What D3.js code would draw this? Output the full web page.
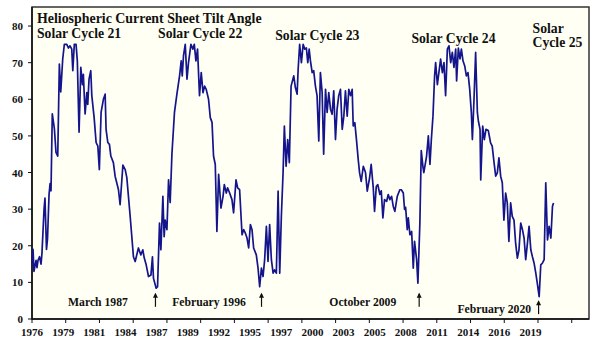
<!DOCTYPE html>
<html>
<head>
<meta charset="utf-8">
<script src="https://cdn.jsdelivr.net/npm/d3@7"></script>
<style>
  body { margin: 0; background: #fff; }
  svg text { font-family: "Liberation Serif", "DejaVu Serif", serif; font-weight: bold; fill: #111; }
</style>
</head>
<body>
<svg id="chart"></svg>
<script>
// tilt angle (degrees), [decimal year, value]
var tiltSeries = [
  [1976.40,15],[1976.49,19],[1976.57,13],[1976.75,16],[1976.83,14],[1976.92,16],[1977.05,17],[1977.18,15],
  [1977.26,18],[1977.44,30],[1977.52,33],[1977.65,19],[1977.74,22],[1977.87,34],[1977.96,37],[1978.04,35],
  [1978.15,56],[1978.33,52],[1978.47,45.5],[1978.62,44.5],[1978.76,69.6],[1978.88,62],[1979.05,71],[1979.19,75],
  [1979.40,75],[1979.54,74],[1979.68,74.6],[1979.83,73.7],[1979.92,67.8],[1980.05,75],[1980.20,75],[1980.31,70.5],
  [1980.46,51],[1980.61,68.7],[1980.75,64],[1980.83,66.8],[1980.98,56],[1981.13,61.8],[1981.21,58.6],[1981.32,65.5],
  [1981.47,67.8],[1981.56,61],[1981.76,55],[1981.93,48.2],[1982.08,47.2],[1982.21,40.8],[1982.36,56.4],[1982.56,60],
  [1982.71,61.4],[1982.79,51.8],[1982.94,48.2],[1983.08,47.7],[1983.20,44.5],[1983.42,42.7],[1983.57,39],[1983.86,35.3],
  [1984.00,31.2],[1984.24,42],[1984.44,40.8],[1984.58,38.6],[1984.87,28],[1985.15,17],[1985.30,15.7],[1985.58,19.4],
  [1985.79,17.5],[1985.96,18.9],[1986.08,16.7],[1986.25,14.8],[1986.45,11.6],[1986.66,12],[1986.79,17],[1986.88,11.1],
  [1987.11,8.4],[1987.23,8.8],[1987.40,26.2],[1987.52,18.9],[1987.69,33.5],[1987.80,22.5],[1987.89,27],[1988.04,24.4],
  [1988.18,38],[1988.32,31.8],[1988.47,45],[1988.69,56.4],[1988.90,61.4],[1989.13,66.4],[1989.27,70.5],[1989.36,66.4],
  [1989.47,71.9],[1989.62,75],[1989.77,65.5],[1989.90,70],[1990.11,75],[1990.28,73.7],[1990.40,75],[1990.54,70.5],
  [1990.68,73.7],[1990.85,61],[1991.00,67.3],[1991.15,61.8],[1991.29,63.6],[1991.43,62.7],[1991.63,60],[1991.78,55],
  [1991.93,53.7],[1992.06,44.5],[1992.21,42.2],[1992.35,23.9],[1992.50,39.5],[1992.70,30.3],[1992.88,33.5],[1992.99,36.7],
  [1993.16,34.4],[1993.27,35.8],[1993.45,34.4],[1993.65,32.6],[1993.79,29],[1994.00,38],[1994.14,35.8],[1994.31,35.3],
  [1994.52,23],[1994.66,24.4],[1994.80,23.5],[1994.95,22.1],[1995.09,19.4],[1995.24,25.8],[1995.38,24.4],[1995.52,19.4],
  [1995.75,17.5],[1995.90,13.9],[1996.04,8.8],[1996.19,13.9],[1996.33,11.6],[1996.47,16.2],[1996.62,25.3],[1996.76,15.7],
  [1996.90,25.8],[1997.05,16.2],[1997.20,12.5],[1997.33,13.4],[1997.48,12.5],[1997.63,34.9],[1997.77,12.5],[1997.91,28],
  [1998.06,40],[1998.17,52.7],[1998.32,41.7],[1998.46,49],[1998.60,42.7],[1998.75,63.6],[1998.98,66.4],[1999.12,63.2],
  [1999.27,61.4],[1999.36,68.2],[1999.49,75],[1999.64,70],[1999.79,75],[1999.93,73.7],[2000.07,74],[2000.19,70],
  [2000.31,73.7],[2000.42,70.5],[2000.57,67.3],[2000.70,67.8],[2000.85,63.6],[2000.99,61],[2001.14,48.6],[2001.28,67.3],
  [2001.43,61.8],[2001.56,45],[2001.72,62.7],[2001.86,56.4],[2002.00,61.8],[2002.15,57.3],[2002.29,55.9],[2002.43,62.3],
  [2002.58,49],[2002.72,57.3],[2002.86,61],[2003.01,62.7],[2003.16,51.8],[2003.30,55.4],[2003.44,62.3],[2003.59,55.4],
  [2003.73,62.7],[2003.88,61],[2004.02,62.7],[2004.11,52.7],[2004.25,53.6],[2004.39,49],[2004.54,43.6],[2004.66,39.9],
  [2004.80,37.6],[2004.98,41.7],[2005.17,40],[2005.32,34.9],[2005.52,38.5],[2005.66,42.2],[2005.84,35.8],[2005.95,29.4],
  [2006.10,36.2],[2006.23,36.7],[2006.41,34],[2006.53,35],[2006.67,27.6],[2006.81,32.6],[2006.99,32.1],[2007.13,34],
  [2007.27,32.6],[2007.42,33.5],[2007.56,30.8],[2007.70,29.4],[2007.91,33.5],[2008.13,35.3],[2008.26,35.3],[2008.43,34.4],
  [2008.54,29.9],[2008.63,30.5],[2008.77,24.4],[2008.86,27.6],[2009.00,23],[2009.15,23.9],[2009.29,13.9],[2009.40,21.2],
  [2009.58,16.2],[2009.69,9.8],[2009.86,26.2],[2009.98,46],[2010.12,41.7],[2010.20,40],[2010.44,44.5],[2010.59,50],
  [2010.73,42.2],[2010.85,49],[2010.99,55.4],[2011.13,66.4],[2011.22,70],[2011.37,64],[2011.50,67.3],[2011.65,71],
  [2011.80,67.3],[2011.94,70],[2012.08,61],[2012.23,73.7],[2012.37,74.6],[2012.52,70],[2012.66,72.8],[2012.80,68.7],
  [2012.95,73.7],[2013.03,65],[2013.18,74],[2013.32,71],[2013.44,73.7],[2013.58,70.5],[2013.73,69.1],[2013.87,66.4],
  [2014.01,67.3],[2014.16,62.7],[2014.30,56.4],[2014.39,49],[2014.53,60],[2014.67,72.8],[2014.82,56.4],[2014.91,54],
  [2015.05,51.8],[2015.11,38],[2015.28,52.7],[2015.42,49],[2015.56,51.8],[2015.76,51.5],[2015.96,48.1],[2016.10,47.2],
  [2016.25,43],[2016.40,39],[2016.54,39.9],[2016.68,44],[2016.83,39],[2016.97,37.2],[2017.11,27],[2017.26,34.4],
  [2017.40,31.7],[2017.54,21.2],[2017.69,31.7],[2017.83,28],[2017.98,27],[2018.12,20.7],[2018.27,16.6],[2018.41,18.9],
  [2018.56,26.2],[2018.71,24.4],[2018.85,22.1],[2018.99,16.2],[2019.14,20.7],[2019.28,25.3],[2019.43,18.9],[2019.57,17],
  [2019.71,15.3],[2019.86,12.5],[2020.01,9.3],[2020.15,6.1],[2020.29,14.8],[2020.44,15.3],[2020.58,16.2],[2020.72,37.2],
  [2020.87,21.6],[2021.01,25.3],[2021.16,22.1],[2021.30,30.8],[2021.39,31.7]
];

var yTicks = [0, 10, 20, 30, 40, 50, 60, 70, 80];
var xLabels = ["1976","1979","1981","1984","1987","1989","1992","1995","1997","2000","2003","2005","2008","2011","2014","2016","2019"];
var xStart = 1976.4, labelStep = 2.6875, markStep = 2.91, xEnd = 2024.45;

var cycleLabels = [
  {lines: ["Solar Cycle 21"], year: 1976.83, value: 76.7},
  {lines: ["Solar Cycle 22"], year: 1987.28, value: 76.7},
  {lines: ["Solar Cycle 23"], year: 1997.38, value: 76.2},
  {lines: ["Solar Cycle 24"], year: 2009.13, value: 75.4},
  {lines: ["Solar", "Cycle 25"], year: 2019.58, value: 78.1}
];
var minima = [
  {text: "March 1987", year: 1987.05, value: 3.6, textYear: 1979.51},
  {text: "February 1996", year: 1996.2, value: 3.6, textYear: 1988.49},
  {text: "October 2009", year: 2009.8, value: 3.6, textYear: 2002.05},
  {text: "February 2020", year: 2020.1, value: 1.6, textYear: 2013.1}
];

var W = 602, H = 342;
var svg = d3.select("#chart").attr("width", W).attr("height", H);

var x = d3.scaleLinear().domain([xStart, xEnd]).range([32, 589]);
var y = d3.scaleLinear().domain([0, 85.2]).range([319, 7]);

// plot area
svg.append("rect")
  .attr("x", x.range()[0]).attr("y", y.range()[1])
  .attr("width", x.range()[1] - x.range()[0])
  .attr("height", y.range()[0] - y.range()[1])
  .attr("fill", "#fffff3")
  .attr("stroke", "#333")
  .attr("stroke-width", 1.5);

// y axis
var yAxis = svg.append("g").attr("transform", "translate(" + x.range()[0] + ",0)");
yAxis.append("line").attr("y1", y.range()[0]).attr("y2", y.range()[1]).attr("stroke", "#111").attr("stroke-width", 1.5);
yAxis.selectAll(".yt").data(yTicks).enter().append("line")
  .attr("x1", -4).attr("x2", 0)
  .attr("y1", function (d) { return y(d) }).attr("y2", function (d) { return y(d) })
  .attr("stroke", "#111");
yAxis.selectAll(".yl").data(yTicks).enter().append("text")
  .attr("x", -9).attr("y", function (d) { return y(d) + 4 })
  .attr("text-anchor", "end")
  .attr("font-size", 11)
  .text(function (d) { return d });

// x axis
var xAxis = svg.append("g").attr("transform", "translate(0," + y.range()[0] + ")");
xAxis.append("line").attr("x1", x.range()[0]).attr("x2", x.range()[1]).attr("stroke", "#111").attr("stroke-width", 1.5);
var marks = d3.range(xStart, xEnd - 1, markStep);
xAxis.selectAll(".xt").data(marks).enter().append("line")
  .attr("x1", function (d) { return x(d) }).attr("x2", function (d) { return x(d) })
  .attr("y1", 0).attr("y2", 4)
  .attr("stroke", "#111");
xAxis.selectAll(".xl").data(xLabels).enter().append("text")
  .attr("x", function (d, i) { return x(xStart + i * labelStep) })
  .attr("y", 17)
  .attr("text-anchor", "middle")
  .attr("font-size", 11)
  .text(function (d) { return d });

// the series
var line = d3.line()
  .x(function (d) { return x(d[0]) })
  .y(function (d) { return y(d[1]) });
svg.append("path")
  .datum(tiltSeries)
  .attr("d", line)
  .attr("fill", "none")
  .attr("stroke", "#14148c")
  .attr("stroke-width", 1.7)
  .attr("stroke-linejoin", "round");

// titles
svg.append("text")
  .attr("x", x(1976.83)).attr("y", 23)
  .attr("font-size", 13.9)
  .text("Heliospheric Current Sheet Tilt Angle");

cycleLabels.forEach(function (c) {
  var t = svg.append("text").attr("x", x(c.year)).attr("y", y(c.value)).attr("font-size", 13.7);
  c.lines.forEach(function (l, i) {
    t.append("tspan").attr("x", x(c.year)).attr("dy", i ? 14 : 0).text(l);
  });
});

// minima notes and arrows
minima.forEach(function (m) {
  svg.append("text")
    .attr("x", x(m.textYear)).attr("y", y(m.value))
    .attr("font-size", 11.7)
    .text(m.text);
  var ax = x(m.year);
  svg.append("line")
    .attr("x1", ax).attr("x2", ax)
    .attr("y1", y(m.value) - 12).attr("y2", y(m.value) + 1)
    .attr("stroke", "#111").attr("stroke-width", 1.2);
  svg.append("path")
    .attr("d", "M" + (ax - 2.5) + "," + (y(m.value) - 8) + "L" + ax + "," + (y(m.value) - 13) + "L" + (ax + 2.5) + "," + (y(m.value) - 8) + "Z")
    .attr("fill", "#111");
});
</script>
</body>
</html>
